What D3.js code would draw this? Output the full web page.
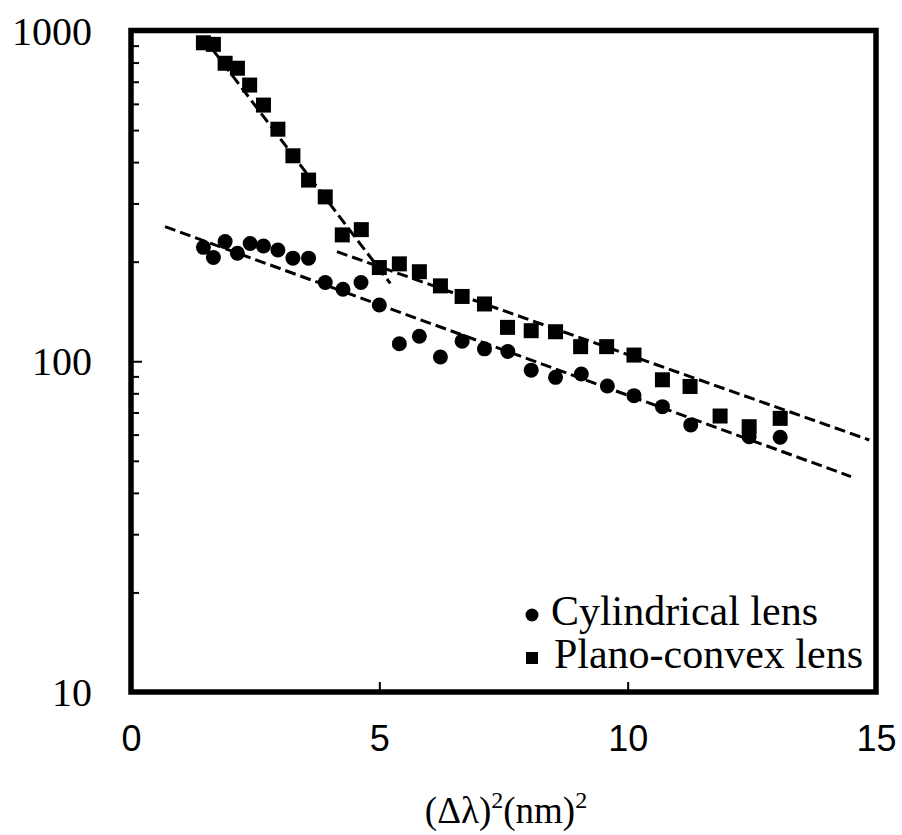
<!DOCTYPE html>
<html>
<head>
<meta charset="utf-8">
<script src="https://cdn.jsdelivr.net/npm/d3@7"></script>
<style>
  html, body { margin: 0; padding: 0; background: #fff; }
  svg { display: block; }
</style>
</head>
<body>
<svg id="chart" width="902" height="835"></svg>
<script>
// (Δλ)² in nm², shared by both series
const xCyl = [1.458, 1.659, 1.895, 2.143, 2.399, 2.667, 2.958, 3.260, 3.575, 3.911,
  4.268, 4.631, 5.000, 5.403, 5.806, 6.230, 6.667, 7.117, 7.587, 8.058,
  8.548, 9.067, 9.591, 10.127, 10.700, 11.270, 12.446, 13.071];
const yCyl = [221, 206, 230, 212, 227, 223, 217, 205, 205, 173,
  165, 173, 148, 113, 119, 103, 115, 109, 107, 94,
  89.4, 91.5, 84.2, 78.7, 72.9, 64.2, 59.1, 58.9];

const xPlano = [1.458, 1.659, 1.895, 2.143, 2.389, 2.667, 2.958, 3.260, 3.575, 3.911,
  4.254, 4.637, 5.000, 5.403, 5.806, 6.230, 6.667, 7.117, 7.581, 8.058,
  8.548, 9.053, 9.577, 10.127, 10.700, 11.256, 11.861, 12.446, 13.071];
const yPlano = [918, 908, 796, 769, 684, 595, 503, 418, 353, 314,
  241, 250, 192, 197, 186.5, 169, 157, 149, 126.6, 123.7,
  122.8, 110.7, 110.7, 104.4, 87.9, 83.9, 68.3, 63.4, 67.2];

// Exponential fit lines (start and end of each dashed line)
const fitPlanoSteep = [[1.45, 956], [5.22, 172]];
const fitPlanoShallow = [[4.147, 214.4], [14.865, 57.8]];
const fitCyl = [[0.685, 255.2], [14.496, 44.8]];

const xTickValues = [0, 5, 10, 15];
const yTickLabels = [10, 100, 1000];
const legendLabels = ["Cylindrical lens", "Plano-convex lens"];
const xTitle = ["(Δλ)", "2", "(nm)", "2"];

const svg = d3.select("#chart");
const plotLeft = 131, plotRight = 876, plotTop = 30.5, plotBottom = 692;

const x = d3.scaleLinear().domain([0, 15]).range([plotLeft, plotRight]);
const y = d3.scaleLog().domain([10, 1000]).range([plotBottom, plotTop]);

// y axis: ticks point into the plot
const yAxis = d3.axisLeft(y)
  .tickValues(y.ticks())
  .tickSizeInner(-7)
  .tickSizeOuter(0)
  .tickPadding(39)
  .tickFormat(d => yTickLabels.includes(d) ? String(d) : "");
const gy = svg.append("g").attr("transform", `translate(${plotLeft},0)`).call(yAxis);
gy.select(".domain").remove();
gy.selectAll(".tick line").attr("stroke", "#000").attr("stroke-width", 2)
  .attr("x2", d => yTickLabels.includes(d) ? 11 : 8);
gy.selectAll(".tick text")
  .attr("font-family", "'Liberation Serif', 'Times New Roman', serif")
  .attr("font-size", 40).attr("fill", "#000").attr("dy", "0.34em");

// x axis
const xAxis = d3.axisBottom(x)
  .tickValues(xTickValues)
  .tickSizeInner(-10)
  .tickSizeOuter(0)
  .tickPadding(33)
  .tickFormat(d3.format("d"));
const gx = svg.append("g").attr("transform", `translate(0,${plotBottom})`).call(xAxis);
gx.select(".domain").remove();
gx.selectAll(".tick line").attr("stroke", "#000").attr("stroke-width", 2);
gx.selectAll(".tick text")
  .attr("font-family", "'Liberation Sans', Arial, sans-serif")
  .attr("font-size", 36).attr("fill", "#000");

// x axis title with superscripts
const title = svg.append("text")
  .attr("x", 506).attr("y", 823)
  .attr("text-anchor", "middle")
  .attr("font-family", "'Liberation Serif', 'Times New Roman', serif")
  .attr("font-size", 37).attr("fill", "#000");
xTitle.forEach((t, i) => {
  const sup = i % 2 === 1;
  title.append("tspan")
    .attr("font-size", sup ? 24 : 37)
    .attr("dy", sup ? -15 : (i === 0 ? 0 : 15))
    .text(t);
});

// dashed fit lines
const line = d3.line().x(d => x(d[0])).y(d => y(d[1]));
[fitPlanoSteep, fitPlanoShallow, fitCyl].forEach(seg => {
  svg.append("path").datum(seg).attr("d", line)
    .attr("fill", "none").attr("stroke", "#000")
    .attr("stroke-width", 3).attr("stroke-dasharray", "11,5");
});

// markers
const cyl = xCyl.map((v, i) => [v, yCyl[i]]);
const plano = xPlano.map((v, i) => [v, yPlano[i]]);
svg.append("g").selectAll("circle").data(cyl).join("circle")
  .attr("cx", d => x(d[0])).attr("cy", d => y(d[1])).attr("r", 7.5).attr("fill", "#000");
const s = 15;
svg.append("g").selectAll("rect").data(plano).join("rect")
  .attr("x", d => x(d[0]) - s / 2).attr("y", d => y(d[1]) - s / 2)
  .attr("width", s).attr("height", s).attr("fill", "#000");

// frame
svg.append("rect").attr("x", plotLeft).attr("y", plotTop)
  .attr("width", plotRight - plotLeft).attr("height", plotBottom - plotTop)
  .attr("fill", "none").attr("stroke", "#000").attr("stroke-width", 5.5);

// legend
const lg = svg.append("g");
lg.append("circle").attr("cx", 532).attr("cy", 615).attr("r", 6.5).attr("fill", "#000");
lg.append("rect").attr("x", 526).attr("y", 652).attr("width", 12).attr("height", 12).attr("fill", "#000");
const legendEnds = [[818, 625], [863, 668]];
legendLabels.forEach((t, i) => {
  lg.append("text")
    .attr("x", legendEnds[i][0]).attr("y", legendEnds[i][1])
    .attr("text-anchor", "end")
    .attr("font-family", "'Liberation Serif', 'Times New Roman', serif")
    .attr("font-size", 42).attr("fill", "#000")
    .text(t);
});
</script>
</body>
</html>
